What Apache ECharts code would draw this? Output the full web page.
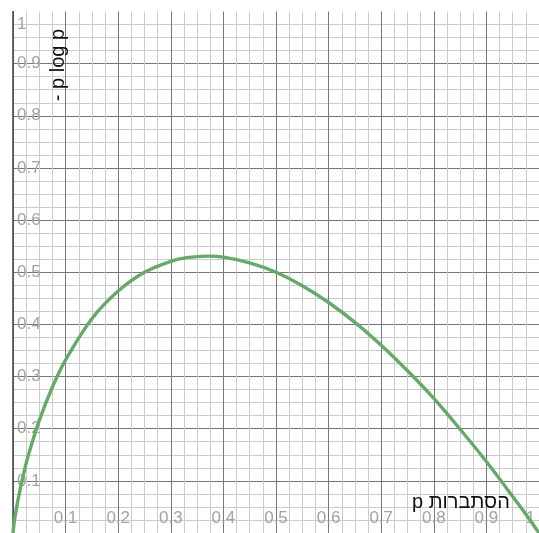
<!DOCTYPE html>
<html>
<head>
<meta charset="utf-8">
<script src="https://cdn.jsdelivr.net/npm/echarts@6/dist/echarts.min.js"></script>
<style>
html,body{margin:0;padding:0;background:#fff;}
#c{width:539px;height:533px;}
</style>
</head>
<body>
<div id="c"></div>
<script>
// probability p (x) and -p log p (y)
var pValues = [0, 0.001, 0.0025, 0.005, 0.01, 0.02, 0.03, 0.05, 0.075, 0.1, 0.15, 0.2, 0.25, 0.3, 0.33, 0.37, 0.4, 0.45, 0.5, 0.55, 0.6, 0.65, 0.7, 0.75, 0.8, 0.85, 0.9, 0.95, 0.975, 1.0];
var hValues = [0, 0.010, 0.022, 0.038, 0.066, 0.113, 0.152, 0.216, 0.280, 0.332, 0.411, 0.464, 0.500, 0.521, 0.528, 0.531, 0.529, 0.518, 0.500, 0.474, 0.442, 0.404, 0.360, 0.311, 0.258, 0.199, 0.137, 0.070, 0.036, 0];
var xTickLabels = ['0', '0.1', '0.2', '0.3', '0.4', '0.5', '0.6', '0.7', '0.8', '0.9', '1'];
var yTickLabels = ['0', '0.1', '0.2', '0.3', '0.4', '0.5', '0.6', '0.7', '0.8', '0.9', '1'];
var xTitle = '\u2067הסתברות p\u2069';
var yTitle = '- p log p';

var data = pValues.map(function (p, i) { return [p, hValues[i]]; });
var chart = echarts.init(document.getElementById('c'), null, {renderer: 'canvas'});
var font = '"Liberation Sans", Arial, sans-serif';
chart.setOption({
  animation: false,
  backgroundColor: '#fff',
  grid: {left: 13, right: 0, top: 11.5, bottom: -5},
  xAxis: {
    type: 'value', min: 0, max: 1, interval: 0.1,
    axisLine: {show: false},
    axisTick: {show: false},
    axisLabel: {
      inside: true, margin: 6, color: '#a3a3a3', fontSize: 17, fontFamily: font,
      showMinLabel: false, showMaxLabel: true,
      formatter: function (v) {
        var s = xTickLabels[Math.round(v * 10)];
        return v > 0.999 ? '{r|' + s + '}' : s;
      },
      rich: {r: {padding: [0, 17, 0, 0], fontSize: 17, color: '#a3a3a3', fontFamily: font}}
    },
    splitLine: {show: true, showMaxLine: false, lineStyle: {color: '#777', width: 1}},
    minorTick: {show: false, splitNumber: 4},
    minorSplitLine: {show: true, lineStyle: {color: '#cbcbcb', width: 1}}
  },
  yAxis: {
    type: 'value', min: 0, max: 1, interval: 0.1,
    axisLine: {show: true, lineStyle: {color: '#444', width: 1.5}},
    axisTick: {show: false},
    axisLabel: {
      inside: true, margin: 4, color: '#a3a3a3', fontSize: 17, fontFamily: font,
      showMinLabel: false, showMaxLabel: true,
      formatter: function (v) {
        var s = yTickLabels[Math.round(v * 10)];
        return v > 0.999 ? '{t|' + s + '}' : s;
      },
      rich: {t: {padding: [25, 0, 0, 0], fontSize: 17, color: '#a3a3a3', fontFamily: font}}
    },
    splitLine: {show: true, showMaxLine: false, lineStyle: {color: '#777', width: 1}},
    minorTick: {show: false, splitNumber: 4},
    minorSplitLine: {show: true, lineStyle: {color: '#cbcbcb', width: 1}}
  },
  series: [{
    type: 'line',
    data: data,
    showSymbol: false,
    smooth: 0.25,
    clip: true,
    lineStyle: {color: '#67a96b', width: 3.4},
    z: 5
  }],
  graphic: [
    {
      type: 'text', x: 58, y: 65, rotation: Math.PI / 2, z: 10,
      style: {text: yTitle, fill: '#111', font: '20px ' + font, textAlign: 'center', textVerticalAlign: 'middle'}
    },
    {
      type: 'text', x: 461, y: 502, z: 10,
      style: {text: xTitle, fill: '#111', font: '20px ' + font, textAlign: 'center', textVerticalAlign: 'middle'}
    }
  ]
});
</script>
</body>
</html>
